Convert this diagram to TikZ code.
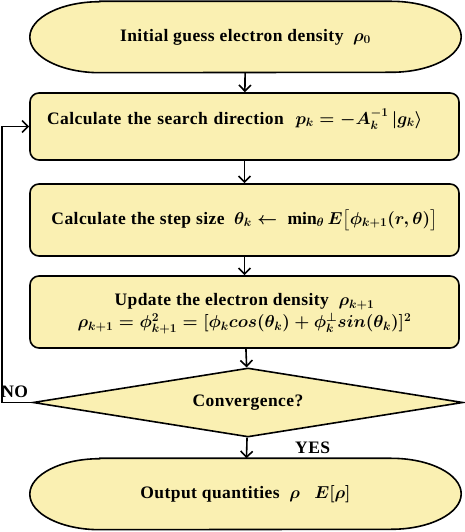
\documentclass[tikz,border=0pt]{standalone}
\usepackage{amsmath,amssymb,bm}
\usepackage{fontspec}
\setmainfont{Liberation Serif}[LetterSpace=2.5]
\usetikzlibrary{arrows.meta, positioning, shapes.geometric}
\definecolor{boxfill}{RGB}{250,240,178}

\begin{document}
\begin{tikzpicture}[
    x=1pt, y=1pt,
    step box/.style={rectangle, draw, fill=boxfill, rounded corners=9pt, line width=1.6pt,
        minimum width=429pt, minimum height=70pt, font=\fontsize{17.5}{21}\selectfont\bfseries\boldmath},
    end node/.style={rectangle, minimum width=431pt, minimum height=71pt,
        font=\fontsize{17.5}{21}\selectfont\bfseries\boldmath},
    cond node/.style={diamond, aspect=6.2, draw, fill=boxfill, line width=1.6pt, minimum width=430pt,
        minimum height=69pt, inner sep=0pt, font=\fontsize{17.5}{21}\selectfont\bfseries},
    lbl/.style={font=\fontsize{17.5}{21}\selectfont\bfseries, inner sep=0pt},
    outline/.style={draw, fill=boxfill, line width=1.6pt},
    arr/.style={-{Straight Barb[length=6pt, width=12pt, line width=1.6pt]}, line width=1.6pt},
]
    \useasboundingbox (0,0) rectangle (464,532);

    % Start
    \node[end node] (init) at (245.5,495) {};
    \draw[outline] ([xshift=70pt]init.north west) -- ([xshift=-70pt]init.north east)
        arc[start angle=90, end angle=-90, x radius=70pt, y radius=35.5pt]
        -- ([xshift=70pt]init.south west)
        arc[start angle=270, end angle=90, x radius=70pt, y radius=35.5pt] -- cycle;
    \node[end node] at (init) {Initial guess electron density~~$\rho_0$};

    % Loop body
    \node[step box, minimum height=67pt, text width=395pt, align=left, text depth=20pt]
        (search) at (244.5,405.5) {Calculate the search direction~~$p_k = -A_k^{-1}\,|g_k\rangle$};
    \node[step box, minimum height=72pt] (stepsize) at (244.5,312)
        {Calculate the step size~~$\theta_k \leftarrow\ \min\nolimits_\theta E\bigl[\phi_{k+1}(r,\theta)\bigr]$};
    \node[step box, minimum height=72pt, align=center, text depth=3pt] (update) at (244.5,220)
        {Update the electron density~~$\rho_{k+1}$\\[1pt]
         $\rho_{k+1} = \phi_{k+1}^2 = [\phi_k cos(\theta_k) + \phi_k^{\perp} sin(\theta_k)]^2$};

    % Test
    \node[cond node] (conv) at (248,129.5) {Convergence?};

    % End
    \node[end node] (output) at (245.5,38) {};
    \draw[outline] ([xshift=70pt]output.north west) -- ([xshift=-70pt]output.north east)
        arc[start angle=90, end angle=-90, x radius=70pt, y radius=35.5pt]
        -- ([xshift=70pt]output.south west)
        arc[start angle=270, end angle=90, x radius=70pt, y radius=35.5pt] -- cycle;
    \node[end node] at (output) {Output quantities~~$\rho$~~~$E[\rho]$};

    % Arrows
    \draw[arr] (init) -- (search);
    \draw[arr] (search) -- (stepsize);
    \draw[arr] (stepsize) -- (update);
    \draw[arr] (update) -- (conv);
    \draw[arr] (conv) -- (output);
    \draw[arr] (conv.west) -- ++(-30,0) |- (search.west);

    \node[lbl, above left=5pt and 4pt of conv.west] (no) {NO};
    \node[lbl, below right=4pt and 47pt of conv.south] (yes) {YES};
\end{tikzpicture}
\end{document}
